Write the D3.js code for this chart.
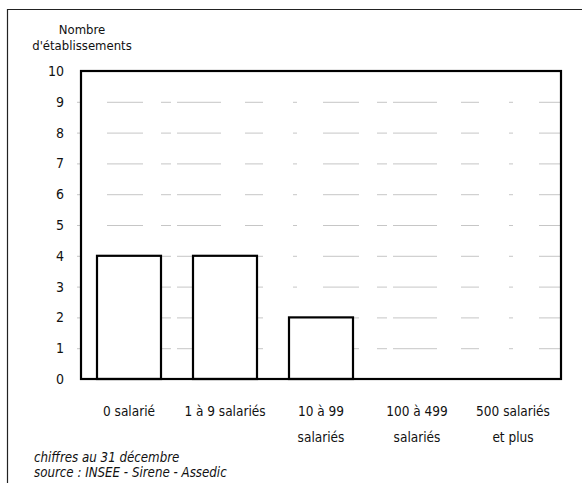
<!DOCTYPE html>
<html><head><meta charset="utf-8">
<script src="https://cdn.jsdelivr.net/npm/d3@7"></script>
<style>
body{margin:0;background:#fff;}
text{font-family:"DejaVu Sans Condensed","Liberation Sans",sans-serif;fill:#111;}
</style></head>
<body><svg id="c" width="582" height="483"></svg>
<script>
const categories = ["0 salarié", "1 à 9 salariés", "10 à 99 salariés", "100 à 499 salariés", "500 salariés et plus"];
const categoryLines = [["0 salarié"], ["1 à 9 salariés"], ["10 à 99", "salariés"], ["100 à 499", "salariés"], ["500 salariés", "et plus"]];
const values = [4, 4, 2, 0, 0];
const yTicks = [0, 1, 2, 3, 4, 5, 6, 7, 8, 9, 10];
const yTitle = ["Nombre", "d'établissements"];
const notes = ["chiffres au 31 décembre", "source : INSEE - Sirene - Assedic"];

const svg = d3.select("#c");
const L = 81, R = 561, T = 71, B = 379;

// outer frame (left + top)
svg.append("path").attr("d", "M7.5,483 V9.5 H582").attr("fill", "none").attr("stroke", "#222").attr("stroke-width", 1.2);

const x = d3.scaleBand().domain(categories).range([L, R]).paddingInner(1/3).paddingOuter(1/6);
const y = d3.scaleLinear().domain([0, 10]).range([B, T]);

// gridlines
svg.append("g").selectAll("line").data(yTicks.filter(d => d > 0 && d < 10)).join("line")
  .attr("x1", L - 4).attr("x2", R).attr("y1", d => y(d) + 0.5).attr("y2", d => y(d) + 0.5)
  .attr("stroke", "#b8b8b8").attr("stroke-width", 0.8).attr("stroke-dasharray", "4 26 36 18 10 6 44 24 18 30");

// y axis labels
const yAxis = d3.axisLeft(y).tickValues(yTicks).tickSize(0).tickPadding(17);
const ga = svg.append("g").attr("transform", `translate(${L},0)`).call(yAxis);
ga.select(".domain").remove();
ga.selectAll("text").attr("font-size", 14).attr("fill", "#111").style("font-family", "'DejaVu Sans Condensed',sans-serif");

// bars
svg.append("g").selectAll("rect").data(values).join("rect")
  .attr("x", (d, i) => x(categories[i]))
  .attr("y", d => y(d))
  .attr("width", x.bandwidth())
  .attr("height", d => B - y(d))
  .attr("fill", "#fff").attr("stroke", "#000").attr("stroke-width", 2.2);

// plot frame
svg.append("rect").attr("x", L).attr("y", T).attr("width", R - L).attr("height", B - T)
  .attr("fill", "none").attr("stroke", "#000").attr("stroke-width", 2.2);

// category labels
const cl = svg.append("g");
categoryLines.forEach((lines, i) => {
  const t = cl.append("text").attr("text-anchor", "middle").attr("font-size", 13.5)
    .attr("x", x(categories[i]) + x.bandwidth() / 2).attr("y", 416);
  lines.forEach((s, k) => t.append("tspan").attr("x", x(categories[i]) + x.bandwidth() / 2).attr("dy", k ? 26 : 0).text(s));
});

// y title
svg.append("text").attr("text-anchor", "middle").attr("font-size", 13).attr("x", 82).attr("y", 34).text(yTitle[0]);
svg.append("text").attr("text-anchor", "middle").attr("font-size", 13).attr("x", 82).attr("y", 50).text(yTitle[1]);

// notes
notes.forEach((n, i) => {
  svg.append("text").attr("font-size", 13.2).attr("font-style", "italic").attr("x", 34).attr("y", 462 + i * 15).text(n);
});
</script></body></html>
